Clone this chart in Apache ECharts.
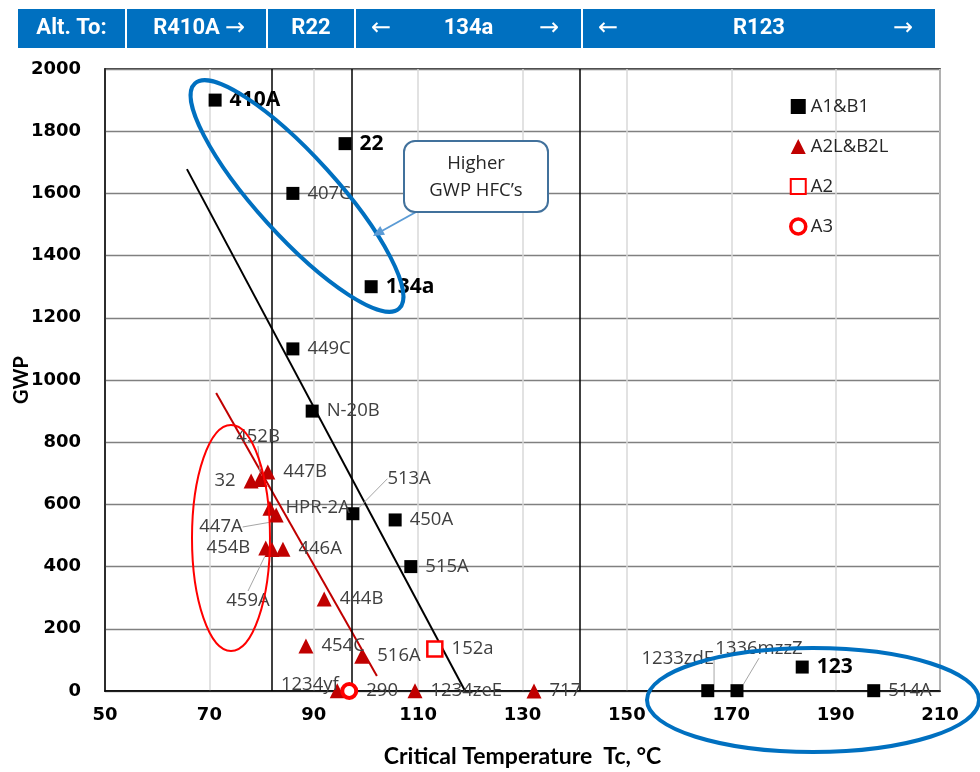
<!DOCTYPE html>
<html>
<head>
<meta charset="utf-8">
<script src="https://cdn.jsdelivr.net/npm/echarts@6/dist/echarts.min.js"></script>
<style>
  html, body { margin: 0; padding: 0; background: #fff; }
  #chart { width: 980px; height: 772px; }
</style>
</head>
<body>
<div id="chart"></div>
<script>
// ---------- DATA ----------
const a1Names = ['410A', '22', '407C', '134a', '449C', 'N-20B', '513A', '450A', '515A', '1233zdE', '1336mzzZ', '123', '514A'];
const a1Tc    = [71.1, 96.0, 86.0, 101.0, 86.0, 89.7, 97.5, 105.6, 108.6, 165.5, 171.1, 183.6, 197.3];
const a1Gwp   = [1900, 1760, 1600, 1300, 1100, 900, 570, 550, 400, 1, 1, 77, 1];

const a2lNames = ['32', '452B', '447B', 'HPR-2A', '447A', '454B', '459A', '446A', '444B', '454C', '516A', '1234yf', '1234zeE', '717'];
const a2lTc    = [78.0, 79.7, 81.2, 81.6, 82.8, 80.8, 82.0, 84.1, 92.0, 88.5, 99.2, 94.5, 109.4, 132.2];
const a2lGwp   = [675, 680, 704, 588, 566, 460, 455, 456, 296, 145, 112, 1, 1, 0];

const a2Names = ['152a'];
const a2Tc    = [113.2];
const a2Gwp   = [135];

const a3Names = ['290'];
const a3Tc    = [96.8];
const a3Gwp   = [0];

const blackTrend = [[65.7, 1678], [119.0, 0]];
const redTrend   = [[71.3, 958], [102.1, 48]];

const separatorTc = [82.0, 97.3, 141.0];

const xTicks = { min: 50, max: 210, interval: 20 };
const yTicks = { min: 0, max: 2000, interval: 200 };

const bannerCells = ['Alt. To:', 'R410A', 'R22', '134a', 'R123'];

// ---------- LABEL PLACEMENT ----------
const boldNames = ['410A', '22', '134a', '123'];
const placement = {
  '513A':     { position: 'right',  dx: 20,  dy: -35, line: true },
  '1233zdE':  { position: 'top',    dx: -30, dy: -8,  line: true },
  '1336mzzZ': { position: 'top',    dx: 22,  dy: -18, line: true },
  '32':       { position: 'left' },
  '452B':     { position: 'top',    dx: -2,  dy: -18, line: true },
  '447A':     { position: 'left',   dx: -18, dy: 12,  line: true },
  '454B':     { position: 'left' },
  '459A':     { position: 'bottom', dx: -24, dy: 26,  line: true },
  '1234yf':   { position: 'left',   dx: 17,  dy: -6 }
};

const seriesNameLists = [a1Names, a2lNames, a2Names, a3Names];

function buildData(names, xs, ys) {
  return names.map((n, i) => {
    const p = placement[n] || {};
    const bold = boldNames.indexOf(n) >= 0;
    const item = {
      name: n,
      value: [xs[i], ys[i]],
      label: {
        show: true,
        formatter: n,
        position: p.position || 'right',
        distance: 8,
        fontFamily: 'Open Sans',
        fontSize: bold ? 21 : 18.5,
        fontWeight: bold ? 'bold' : 'normal',
        color: bold ? '#000' : '#404040'
      }
    };
    if (p.line) {
      item.labelLine = { show: true, lineStyle: { color: '#a6a6a6', width: 1 } };
    }
    return item;
  });
}

const chart = echarts.init(document.getElementById('chart'), null, { renderer: 'canvas' });

const tickFont = { fontFamily: 'DejaVu Sans', fontWeight: 'bold', fontSize: 18, color: '#000', formatter: v => String(v) };

const option = {
  backgroundColor: '#fff',
  animation: false,
  grid: { left: 105, right: 40, top: 69, bottom: 81, show: true, borderColor: '#000', borderWidth: 1.5, backgroundColor: 'transparent', containLabel: false, outerBoundsMode: 'none' },
  xAxis: {
    type: 'value', min: xTicks.min, max: xTicks.max, interval: xTicks.interval,
    name: 'Critical Temperature  Tc, \u00B0C', nameLocation: 'middle', nameGap: 54, nameMoveOverlap: false,
    nameTextStyle: { fontFamily: 'Lato', fontWeight: 'bold', fontSize: 23, color: '#000' },
    axisLine: { lineStyle: { color: '#000', width: 1.5 } },
    axisTick: { show: false },
    axisLabel: Object.assign({ margin: 15 }, tickFont),
    splitLine: { show: true, lineStyle: { color: '#d9d9d9', width: 1.5 } }
  },
  yAxis: {
    type: 'value', min: yTicks.min, max: yTicks.max, interval: yTicks.interval,
    name: 'GWP', nameLocation: 'middle', nameGap: 73, nameMoveOverlap: false,
    nameTextStyle: { fontFamily: 'Lato', fontWeight: 'bold', fontSize: 20, color: '#000' },
    axisLine: { lineStyle: { color: '#000', width: 1.5 } },
    axisTick: { show: false },
    axisLabel: Object.assign({ margin: 24 }, tickFont),
    splitLine: { show: true, lineStyle: { color: '#808080', width: 1.3 } }
  },
  legend: {
    orient: 'vertical', left: 784, top: 92, itemGap: 21, itemWidth: 15, itemHeight: 15,
    data: ['A1&B1', 'A2L&B2L', 'A2', { name: 'A3', itemStyle: { borderWidth: 3.5 } }],
    textStyle: { fontFamily: 'Open Sans', fontSize: 18.5, color: '#262626' }
  },
  labelLayout: function (p) {
    const list = seriesNameLists[p.seriesIndex];
    if (!list) return {};
    const pl = placement[list[p.dataIndex]];
    if (!pl || (pl.dx === undefined && pl.dy === undefined)) return {};
    return { dx: pl.dx || 0, dy: pl.dy || 0 };
  },
  series: [
    {
      name: 'A1&B1', type: 'scatter', symbol: 'rect', symbolSize: 13, z: 5,
      itemStyle: { color: '#000', opacity: 1 },
      data: buildData(a1Names, a1Tc, a1Gwp)
    },
    {
      name: 'A2L&B2L', type: 'scatter', symbol: 'triangle', symbolSize: 15, z: 5,
      itemStyle: { color: '#c00000', opacity: 1 },
      data: buildData(a2lNames, a2lTc, a2lGwp)
    },
    {
      name: 'A2', type: 'scatter', symbol: 'rect', symbolSize: 15, z: 5,
      itemStyle: { color: '#fff', borderColor: '#ff0000', borderWidth: 2.5, opacity: 1 },
      data: buildData(a2Names, a2Tc, a2Gwp)
    },
    {
      name: 'A3', type: 'scatter', symbol: 'circle', symbolSize: 14, z: 6,
      itemStyle: { color: '#fff', borderColor: '#ff0000', borderWidth: 4, opacity: 1 },
      data: buildData(a3Names, a3Tc, a3Gwp)
    },
    {
      name: 'blackTrend', type: 'line', data: blackTrend, showSymbol: false, symbol: 'none', z: 3,
      lineStyle: { color: '#000', width: 2 }, silent: true,
      markLine: {
        silent: true, symbol: 'none', label: { show: false },
        lineStyle: { color: '#000', width: 1.5, type: 'solid' },
        data: separatorTc.map(v => ({ xAxis: v }))
      }
    },
    {
      name: 'redTrend', type: 'line', data: redTrend, showSymbol: false, symbol: 'none', z: 3,
      lineStyle: { color: '#c00000', width: 2 }, silent: true
    }
  ],
  graphic: []
};

chart.setOption(option);

// ---------- ANNOTATIONS (banner, ellipses, callout) ----------
const bannerBounds = [18, 127, 268, 356, 583, 937];
const g = [];
const bTop = 9, bH = 39;
const bannerFont = { fontFamily: 'Roboto', fontWeight: 'bold', fontSize: 22, fill: '#fff' };
const arrowFont = { fontFamily: 'DejaVu Sans', fontWeight: 'normal', fontSize: 24, fill: '#fff' };
for (let i = 0; i < 5; i++) {
  const x0 = bannerBounds[i], x1 = bannerBounds[i + 1] - 2;
  g.push({ type: 'rect', shape: { x: x0, y: bTop, width: x1 - x0, height: bH }, style: { fill: '#0070c0' }, z: 10 });
  const cx = (x0 + x1) / 2 - (i === 1 ? 10 : 0);
  g.push({ type: 'text', x: cx, y: bTop + bH / 2, style: Object.assign({ text: bannerCells[i], textAlign: 'center', textVerticalAlign: 'middle' }, bannerFont), z: 11 });
  if (i === 1) {
    g.push({ type: 'text', x: 235, y: bTop + bH / 2, style: Object.assign({ text: '\u2192', textAlign: 'center', textVerticalAlign: 'middle' }, arrowFont), z: 11 });
  }
  if (i === 3 || i === 4) {
    g.push({ type: 'text', x: x0 + 25, y: bTop + bH / 2, style: Object.assign({ text: '\u2190', textAlign: 'center', textVerticalAlign: 'middle' }, arrowFont), z: 11 });
    g.push({ type: 'text', x: x1 - 32, y: bTop + bH / 2, style: Object.assign({ text: '\u2192', textAlign: 'center', textVerticalAlign: 'middle' }, arrowFont), z: 11 });
  }
}

// blue ellipse around high-GWP HFCs
g.push({ type: 'ellipse', x: 297, y: 196, rotation: -0.834, shape: { cx: 0, cy: 0, rx: 152, ry: 40 },
  style: { fill: 'none', stroke: '#0070c0', lineWidth: 4 }, z: 20 });
// blue ellipse around R123 alternatives
g.push({ type: 'ellipse', x: 813, y: 700, shape: { cx: 0, cy: 0, rx: 166, ry: 52 },
  style: { fill: 'none', stroke: '#0070c0', lineWidth: 4 }, z: 20 });
// red ellipse
g.push({ type: 'ellipse', x: 231, y: 538, shape: { cx: 0, cy: 0, rx: 39, ry: 113 },
  style: { fill: 'none', stroke: '#ff0000', lineWidth: 2 }, z: 20 });

// callout
g.push({ type: 'line', shape: { x1: 416, y1: 212, x2: 380, y2: 232 }, style: { stroke: '#5b9bd5', lineWidth: 2 }, z: 20 });
g.push({ type: 'polygon', shape: { points: [[373, 236], [385, 234.8], [380.2, 226]] }, style: { fill: '#5b9bd5' }, z: 20 });
g.push({ type: 'rect', shape: { x: 404, y: 141, width: 144, height: 71, r: 11 }, style: { fill: '#fff', stroke: '#41719c', lineWidth: 2 }, z: 21 });
g.push({ type: 'text', x: 476, y: 164, style: { text: 'Higher', textAlign: 'center', textVerticalAlign: 'middle', fontFamily: 'Open Sans', fontSize: 18.5, fill: '#262626' }, z: 22 });
g.push({ type: 'text', x: 476, y: 191, style: { text: 'GWP HFC\u2019s', textAlign: 'center', textVerticalAlign: 'middle', fontFamily: 'Open Sans', fontSize: 18.5, fill: '#262626' }, z: 22 });

chart.setOption({ graphic: g });
</script>
</body>
</html>
